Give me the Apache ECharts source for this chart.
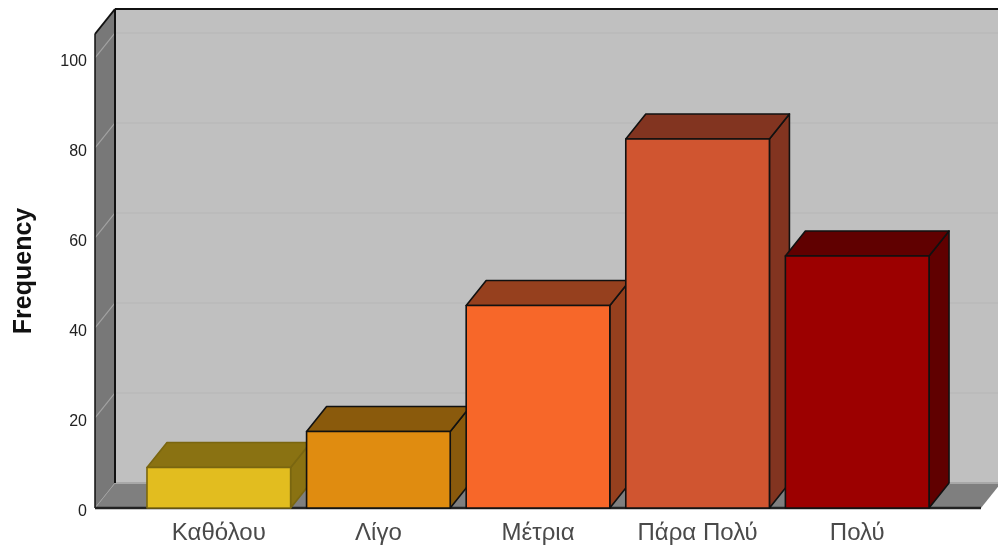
<!DOCTYPE html>
<html>
<head>
<meta charset="utf-8">
<style>html,body{margin:0;padding:0;background:#fff}#chart{width:998px;height:547px}</style>
<script src="https://cdn.jsdelivr.net/npm/echarts@6/dist/echarts.min.js"></script>
</head>
<body>
<div id="chart"></div>
<script>
// Answer categories and their counts
const categories = ['Καθόλου', 'Λίγο', 'Μέτρια', 'Πάρα Πολύ', 'Πολύ'];
const frequency = [9, 17, 45, 82, 56];
const yTicks = [0, 20, 40, 60, 80, 100];
const yMax = 105.33;

// Fill colours per bar: front face, then the shaded top and side
const frontColors = ['#e2bd1f', '#e08c10', '#f76729', '#d05530', '#9c0000'];
const shadeColors = ['#8a7212', '#8a5a0c', '#96401e', '#823420', '#600000'];
const edgeColors = ['#7a6610', '#111111', '#111111', '#111111', '#111111'];

// Oblique projection of the box: how far the back plane is shifted
const depthX = 20;
const depthY = -25;
const wallPad = 44;
const barFill = 0.9;

function poly(points, fill, stroke, lineWidth) {
  return {
    type: 'polygon',
    shape: { points },
    style: { fill, stroke: stroke || null, lineWidth: lineWidth || 0, lineJoin: 'round' }
  };
}

function line(x1, y1, x2, y2, stroke, lineWidth) {
  return { type: 'line', shape: { x1, y1, x2, y2 }, style: { stroke, lineWidth } };
}

// Back wall, side wall, floor and the gridlines that wrap round them
function renderWalls(params, api) {
  const cs = params.coordSys;
  const left = cs.x - wallPad;
  const right = cs.x + cs.width + wallPad;
  const bottom = api.coord([0, 0])[1];
  const top = api.coord([0, yMax])[1];
  const children = [
    poly([[left + depthX, top + depthY], [right + depthX, top + depthY],
          [right + depthX, bottom + depthY], [left + depthX, bottom + depthY]], '#c0c0c0'),
    poly([[left, top], [left + depthX, top + depthY],
          [left + depthX, bottom + depthY], [left, bottom]], '#787878'),
    poly([[left, bottom], [left + depthX, bottom + depthY],
          [right + depthX, bottom + depthY], [right, bottom]], '#7f7f7f')
  ];
  yTicks.slice(1).forEach(function (t) {
    const y = api.coord([0, t])[1];
    children.push(line(left, y, left + depthX, y + depthY, '#a2a2a2', 1.2));
    children.push(line(left + depthX, y + depthY, right + depthX, y + depthY, '#b6b6b6', 1.2));
  });
  children.push(line(left, bottom, left + depthX, bottom + depthY, '#a0a0a0', 1));
  children.push(line(left + depthX, bottom + depthY, right + depthX, bottom + depthY, '#a8a8a8', 2));
  children.push(line(left + depthX, top + depthY, right + depthX, top + depthY, '#111', 2));
  children.push(line(left, top, left + depthX, top + depthY, '#111', 2));
  children.push(line(left, top, left, bottom, '#111', 1.5));
  children.push(line(left + depthX, top + depthY, left + depthX, bottom + depthY, '#111', 2));
  return { type: 'group', children };
}

// A bar as a box: side and top faces behind the front face
function renderBar(params, api) {
  const i = api.value(0);
  const foot = api.coord([i, 0]);
  const head = api.coord([i, api.value(1)]);
  const w = api.size([1, 0])[0] * barFill;
  const x0 = foot[0] - w / 2;
  const x1 = foot[0] + w / 2;
  const edge = edgeColors[i];
  const lw = 1.6;
  return {
    type: 'group',
    children: [
      poly([[x1, head[1]], [x1 + depthX, head[1] + depthY],
            [x1 + depthX, foot[1] + depthY], [x1, foot[1]]], shadeColors[i], edge, lw),
      poly([[x0, head[1]], [x0 + depthX, head[1] + depthY],
            [x1 + depthX, head[1] + depthY], [x1, head[1]]], shadeColors[i], edge, lw),
      poly([[x0, head[1]], [x1, head[1]], [x1, foot[1]], [x0, foot[1]]], frontColors[i], edge, lw)
    ]
  };
}

// The heavy base line sits over the wall floor and under the labels
function renderBase(params, api) {
  const cs = params.coordSys;
  const y = api.coord([0, 0])[1];
  return line(cs.x - wallPad, y, cs.x + cs.width + wallPad, y, '#222', 2.4);
}

const chart = echarts.init(document.getElementById('chart'), null, { renderer: 'canvas' });
chart.setOption({
  animation: false,
  backgroundColor: '#ffffff',
  grid: { left: 139, right: 61, top: 34, bottom: 39 },
  xAxis: {
    type: 'category',
    data: categories,
    axisLine: { show: false },
    axisTick: { show: false },
    splitLine: { show: false },
    axisLabel: {
      interval: 0,
      margin: 13,
      fontFamily: 'Liberation Sans',
      fontSize: 24,
      color: '#4a4a4a'
    }
  },
  yAxis: {
    type: 'value',
    min: 0,
    max: yMax,
    interval: 20,
    name: 'Frequency',
    nameLocation: 'middle',
    nameGap: 102,
    nameTextStyle: { fontFamily: 'Liberation Sans', fontWeight: 'bold', fontSize: 25, color: '#111' },
    axisLine: { show: false },
    axisTick: { show: false },
    splitLine: { show: false },
    axisLabel: {
      margin: 52,
      showMaxLabel: false,
      verticalAlign: 'top',
      lineHeight: 7,
      fontFamily: 'Liberation Sans',
      fontSize: 16,
      color: '#222'
    }
  },
  series: [
    { type: 'custom', clip: false, silent: true, z: 1, data: [[0, 0]], renderItem: renderWalls },
    { type: 'custom', clip: false, silent: true, z: 2, data: [[0, 0]], renderItem: renderBase },
    {
      type: 'custom',
      clip: false,
      z: 3,
      encode: { x: 0, y: 1 },
      data: frequency.map(function (v, i) { return [i, v]; }),
      renderItem: renderBar
    }
  ]
});
</script>
</body>
</html>
